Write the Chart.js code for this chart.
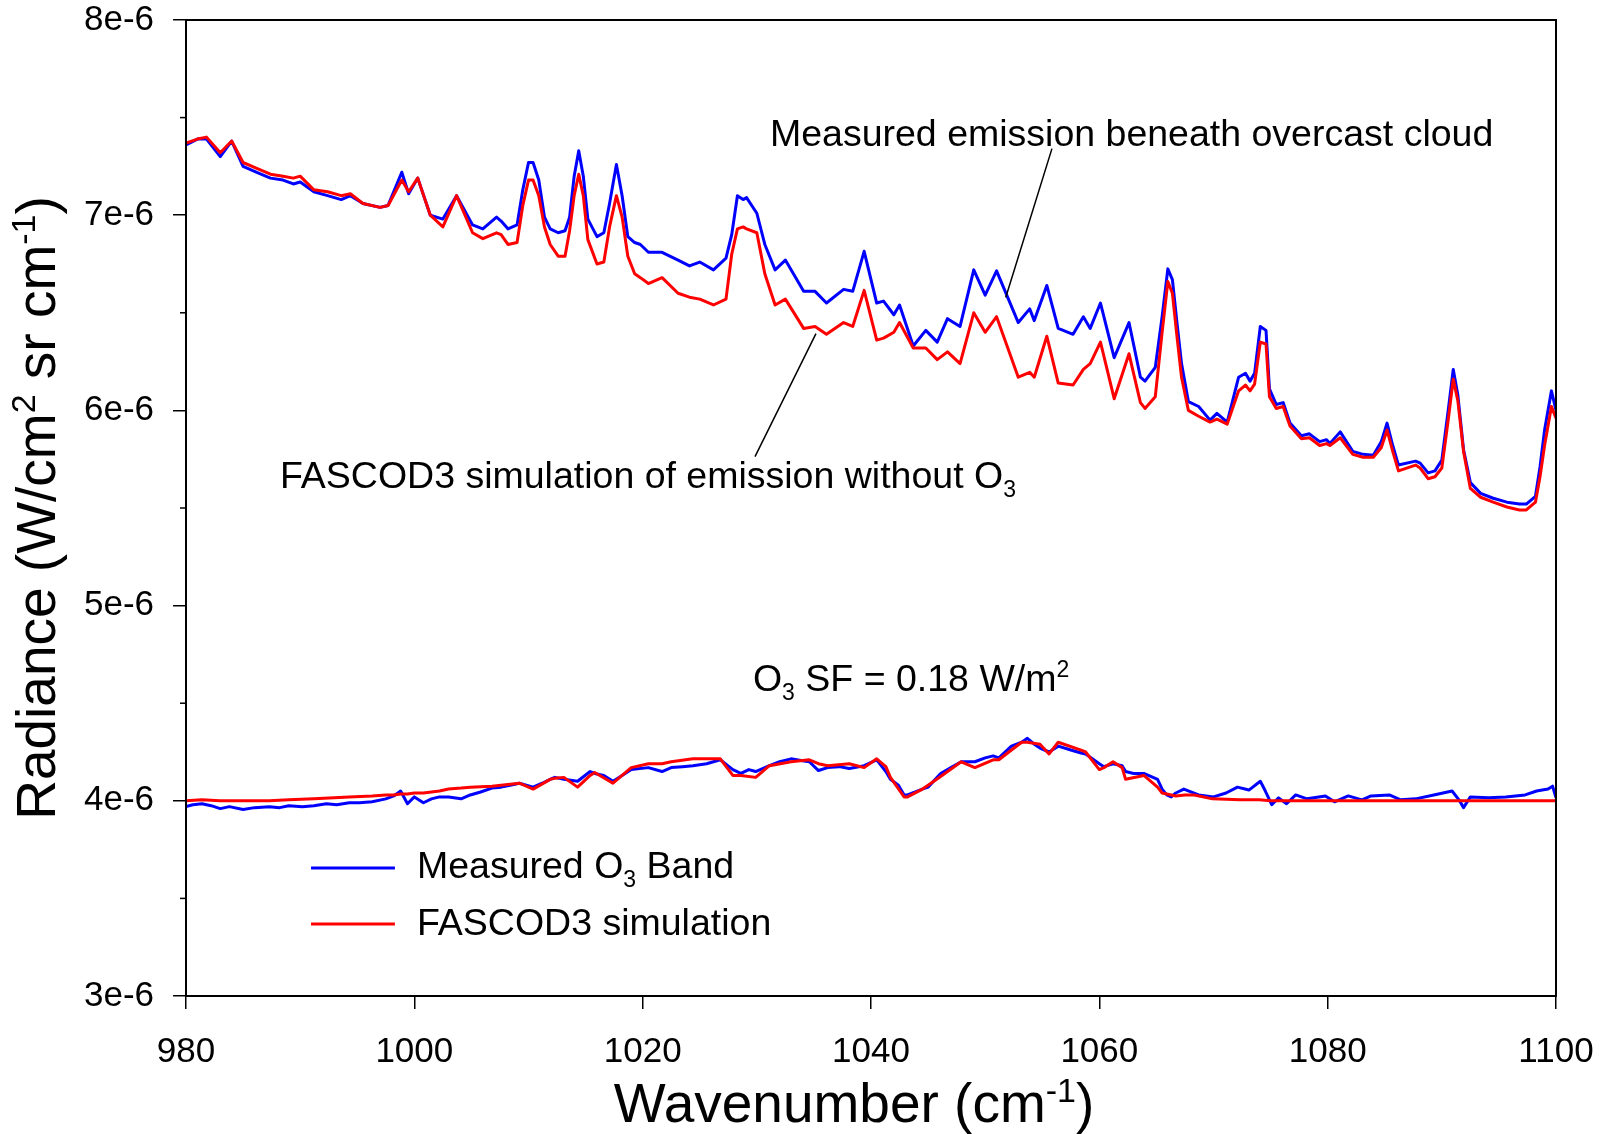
<!DOCTYPE html>
<html lang="en">
<head>
    <meta charset="UTF-8">
    <title>Radiance vs Wavenumber</title>
    <script src="https://cdn.jsdelivr.net/npm/chart.js"></script>
    <style>
        body { margin: 0; background: #fff; }
        #wrap { width: 1610px; height: 1134px; }
    </style>
</head>
<body>
    <div id="wrap"><canvas id="spec" width="1610" height="1134"></canvas></div>

    <script>
        // radiance values in units of 1e-6 W/cm2 sr cm-1
        const wnUpper = [980.0, 981.0, 981.8, 983.0, 984.0, 985.0, 986.2, 987.4, 988.5, 989.4,
            990.0, 991.2, 992.4, 993.6, 994.4, 995.5, 997.0, 997.7, 998.9, 999.5,
            1000.3, 1001.4, 1002.5, 1003.7, 1005.1, 1006.0, 1007.2, 1007.6, 1008.2, 1009.0,
            1009.5, 1010.0, 1010.4, 1010.9, 1011.4, 1011.9, 1012.6, 1013.2, 1013.6, 1014.0,
            1014.4, 1014.8, 1015.2, 1016.0, 1016.6, 1017.1, 1017.7, 1018.2, 1018.7, 1019.3,
            1019.8, 1020.5, 1021.7, 1023.1, 1024.1, 1025.0, 1026.2, 1027.3, 1027.8, 1028.3,
            1028.8, 1029.1, 1030.0, 1030.7, 1031.6, 1032.5, 1034.1, 1035.1, 1036.1, 1037.6,
            1038.4, 1039.4, 1040.5, 1041.1, 1042.0, 1042.5, 1043.7, 1044.8, 1045.8, 1046.7,
            1047.8, 1049.0, 1050.0, 1051.0, 1052.9, 1053.9, 1054.3, 1055.4, 1056.4, 1057.7,
            1058.6, 1059.2, 1060.1, 1061.3, 1062.6, 1063.6, 1064.0, 1064.9, 1065.5, 1066.0,
            1066.4, 1066.8, 1067.2, 1067.8, 1068.7, 1069.7, 1070.3, 1071.2, 1072.2, 1072.8,
            1073.2, 1073.6, 1074.1, 1074.6, 1074.9, 1075.5, 1076.1, 1076.7, 1077.7, 1078.4,
            1079.3, 1079.9, 1080.2, 1081.1, 1082.2, 1083.1, 1084.0, 1084.7, 1085.2, 1085.7,
            1086.2, 1087.7, 1088.1, 1088.8, 1089.4, 1090.0, 1090.6, 1091.0, 1091.4, 1091.9,
            1092.5, 1093.4, 1094.5, 1095.7, 1096.8, 1097.4, 1098.2, 1098.6, 1099.0, 1099.6,
            1100.0];
        const measUpper = [7.36, 7.39, 7.39, 7.30, 7.38, 7.25, 7.22, 7.19, 7.18, 7.16,
            7.17, 7.12, 7.10, 7.08, 7.10, 7.06, 7.04, 7.05, 7.22, 7.11,
            7.19, 7.00, 6.98, 7.10, 6.95, 6.93, 6.99, 6.97, 6.93, 6.95,
            7.13, 7.27, 7.27, 7.18, 6.99, 6.93, 6.91, 6.92, 6.99, 7.20,
            7.33, 7.20, 6.98, 6.89, 6.91, 7.06, 7.26, 7.10, 6.89, 6.86,
            6.85, 6.81, 6.81, 6.77, 6.74, 6.76, 6.72, 6.78, 6.90, 7.10,
            7.08, 7.09, 7.01, 6.85, 6.72, 6.77, 6.61, 6.61, 6.55, 6.62,
            6.61, 6.815, 6.55, 6.56, 6.49, 6.54, 6.33, 6.41, 6.35, 6.47,
            6.43, 6.72, 6.59, 6.715, 6.45, 6.52, 6.46, 6.64, 6.42, 6.39,
            6.48, 6.42, 6.55, 6.27, 6.45, 6.17, 6.15, 6.22, 6.48, 6.725,
            6.67, 6.45, 6.24, 6.045, 6.02, 5.95, 5.985, 5.94, 6.17, 6.19,
            6.15, 6.19, 6.43, 6.41, 6.11, 6.03, 6.04, 5.935, 5.87, 5.88,
            5.84, 5.85, 5.83, 5.89, 5.79, 5.775, 5.77, 5.84, 5.935, 5.82,
            5.72, 5.74, 5.73, 5.68, 5.69, 5.745, 6.02, 6.21, 6.08, 5.80,
            5.63, 5.575, 5.55, 5.53, 5.52, 5.52, 5.56, 5.71, 5.90, 6.10,
            6.00];
        const simUpper = [7.37, 7.39, 7.40, 7.32, 7.38, 7.27, 7.24, 7.21, 7.20, 7.19,
            7.20, 7.13, 7.12, 7.10, 7.11, 7.06, 7.04, 7.05, 7.18, 7.12,
            7.19, 7.00, 6.94, 7.10, 6.91, 6.88, 6.91, 6.90, 6.85, 6.86,
            7.05, 7.18, 7.18, 7.10, 6.94, 6.85, 6.79, 6.79, 6.92, 7.10,
            7.21, 7.10, 6.875, 6.75, 6.76, 6.94, 7.10, 6.99, 6.79, 6.70,
            6.68, 6.65, 6.68, 6.60, 6.58, 6.57, 6.54, 6.57, 6.80, 6.93,
            6.94, 6.93, 6.91, 6.70, 6.54, 6.57, 6.42, 6.43, 6.39, 6.45,
            6.43, 6.615, 6.36, 6.37, 6.40, 6.45, 6.32, 6.32, 6.26, 6.30,
            6.24, 6.50, 6.40, 6.48, 6.17, 6.195, 6.17, 6.38, 6.14, 6.13,
            6.21, 6.24, 6.35, 6.06, 6.29, 6.04, 6.01, 6.07, 6.40, 6.66,
            6.60, 6.38, 6.17, 6.00, 5.97, 5.94, 5.955, 5.93, 6.10, 6.13,
            6.10, 6.135, 6.35, 6.34, 6.07, 6.01, 6.02, 5.92, 5.855, 5.86,
            5.82, 5.83, 5.82, 5.86, 5.775, 5.76, 5.76, 5.81, 5.90, 5.79,
            5.69, 5.72, 5.705, 5.65, 5.66, 5.705, 5.97, 6.16, 6.05, 5.79,
            5.60, 5.555, 5.53, 5.505, 5.49, 5.49, 5.53, 5.66, 5.82, 6.02,
            5.96];

        const wnLowerMeas = [980.0, 980.6, 981.4, 982.2, 983.0, 983.8, 985.0, 986.0, 987.3, 988.2, 989.0, 990.2, 991.2, 992.3, 993.2, 994.3, 995.2, 996.3, 997.5, 998.2,
            998.8, 999.4, 1000.0, 1000.8, 1001.5, 1002.2, 1003.0, 1004.1, 1004.9, 1005.8, 1006.8, 1007.6, 1008.4, 1009.2, 1010.4, 1011.2, 1011.9, 1012.3, 1013.1, 1014.3,
            1015.4, 1015.8, 1016.6, 1017.4, 1018.2, 1019.0, 1020.5, 1021.7, 1022.5, 1023.5, 1024.4, 1025.6, 1026.8, 1027.9, 1028.6, 1029.3, 1029.9, 1031.1, 1032.0, 1033.0,
            1034.0, 1034.6, 1035.4, 1036.2, 1037.2, 1038.1, 1039.4, 1040.5, 1041.3, 1041.7, 1042.4, 1042.9, 1043.2, 1044.5, 1045.0, 1046.1, 1047.0, 1047.9, 1049.1, 1050.0,
            1050.7, 1051.2, 1052.3, 1053.2, 1053.7, 1054.3, 1054.8, 1055.6, 1056.4, 1057.5, 1058.4, 1058.8, 1060.0, 1060.4, 1061.2, 1062.0, 1062.3, 1063.0, 1063.9, 1065.1,
            1065.5, 1065.9, 1066.3, 1066.7, 1067.4, 1068.7, 1070.0, 1071.1, 1072.1, 1073.1, 1074.1, 1074.5, 1075.1, 1075.7, 1076.4, 1077.2, 1078.2, 1079.8, 1080.6, 1081.8,
            1083.0, 1083.8, 1085.4, 1086.4, 1087.7, 1089.3, 1090.9, 1091.5, 1091.9, 1092.5, 1094.1, 1095.6, 1097.3, 1098.3, 1099.3, 1099.7, 1100.0];
        const measLower = [3.97, 3.98, 3.985, 3.975, 3.96, 3.97, 3.955, 3.965, 3.97, 3.965, 3.975, 3.97, 3.975, 3.985, 3.98, 3.99, 3.99, 3.995, 4.01, 4.025,
            4.05, 3.985, 4.02, 3.99, 4.01, 4.02, 4.02, 4.01, 4.03, 4.045, 4.065, 4.07, 4.08, 4.09, 4.07, 4.09, 4.11, 4.12, 4.11, 4.10,
            4.15, 4.14, 4.13, 4.10, 4.13, 4.16, 4.17, 4.15, 4.17, 4.175, 4.18, 4.19, 4.21, 4.16, 4.14, 4.16, 4.15, 4.18, 4.20, 4.215,
            4.205, 4.20, 4.155, 4.17, 4.175, 4.165, 4.18, 4.21, 4.15, 4.11, 4.08, 4.03, 4.03, 4.06, 4.07, 4.14, 4.17, 4.20, 4.20, 4.22,
            4.23, 4.22, 4.28, 4.30, 4.32, 4.29, 4.27, 4.25, 4.28, 4.26, 4.245, 4.24, 4.19, 4.175, 4.19, 4.18, 4.15, 4.14, 4.14, 4.11,
            4.06, 4.03, 4.02, 4.04, 4.06, 4.03, 4.02, 4.04, 4.07, 4.055, 4.10, 4.055, 3.98, 4.015, 3.985, 4.03, 4.01, 4.025, 3.995, 4.025,
            4.005, 4.025, 4.03, 4.005, 4.01, 4.03, 4.05, 4.005, 3.965, 4.02, 4.015, 4.02, 4.03, 4.05, 4.06, 4.075, 4.015];

        const wnLowerSim = [980.0, 981.4, 983.0, 985.0, 987.3, 989.0, 991.2, 994.3, 996.3, 997.5, 998.2, 998.8, 999.4, 1000.0, 1000.8, 1002.2, 1003.0, 1004.1, 1004.9, 1006.8,
            1007.6, 1009.2, 1010.4, 1011.9, 1012.3, 1013.1, 1014.3, 1015.4, 1015.8, 1017.4, 1019.0, 1020.5, 1021.7, 1022.5, 1024.4, 1026.8, 1027.9, 1028.6, 1029.9, 1031.1,
            1033.0, 1034.6, 1035.4, 1036.2, 1038.1, 1039.4, 1040.5, 1041.3, 1041.7, 1042.9, 1043.2, 1044.5, 1045.0, 1046.1, 1047.9, 1049.1, 1050.7, 1051.2, 1052.3, 1053.2,
            1053.7, 1054.8, 1055.6, 1056.4, 1058.4, 1058.8, 1060.0, 1060.4, 1061.2, 1062.0, 1062.3, 1063.9, 1065.1, 1065.5, 1066.3, 1066.7, 1067.5, 1068.3, 1069.5, 1069.9,
            1072.3, 1074.0, 1075.0, 1077.0, 1079.8, 1081.8, 1085.4, 1087.7, 1090.9, 1091.9, 1093.0, 1095.6, 1098.3, 1099.5, 1100.0];
        const simLower = [4.00, 4.005, 4.00, 4.00, 4.00, 4.005, 4.01, 4.02, 4.025, 4.03, 4.03, 4.035, 4.035, 4.04, 4.04, 4.05, 4.06, 4.065, 4.07, 4.075,
            4.08, 4.09, 4.06, 4.11, 4.115, 4.12, 4.07, 4.13, 4.145, 4.09, 4.17, 4.19, 4.19, 4.20, 4.215, 4.215, 4.13, 4.13, 4.12, 4.18,
            4.20, 4.21, 4.19, 4.18, 4.19, 4.17, 4.215, 4.175, 4.12, 4.02, 4.02, 4.06, 4.08, 4.125, 4.20, 4.17, 4.21, 4.21, 4.26, 4.30,
            4.30, 4.29, 4.24, 4.30, 4.26, 4.25, 4.16, 4.17, 4.20, 4.17, 4.11, 4.13, 4.07, 4.04, 4.03, 4.025, 4.03, 4.03, 4.015, 4.01,
            4.005, 4.005, 4.00, 4.00, 4.00, 4.00, 4.00, 4.00, 4.00, 4.00, 4.00, 4.00, 4.00, 4.00, 4.00];

        const xTicks = { min: 980, max: 1100, step: 20 };
        const yTicks = { min: 3, max: 8, step: 1, suffix: 'e-6' };

        const BLUE = '#0000ff';
        const RED = '#ff0000';
        const FONT = '"Liberation Sans", Arial, sans-serif';

        const pts = (xs, ys) => xs.map((x, i) => ({ x: x, y: ys[i] }));

        // text with sub/superscripts, parts = [[text, 'sup'|'sub'|undefined], ...]
        function richText(ctx, parts, x, y, size, align) {
            const small = Math.round(size * 0.62);
            let total = 0;
            const widths = parts.map(p => {
                ctx.font = (p[1] ? small : size) + 'px ' + FONT;
                const w = ctx.measureText(p[0]).width;
                total += w;
                return w;
            });
            let cx = align === 'center' ? x - total / 2 : x;
            ctx.textAlign = 'left';
            ctx.textBaseline = 'alphabetic';
            parts.forEach((p, i) => {
                ctx.font = (p[1] ? small : size) + 'px ' + FONT;
                const dy = p[1] === 'sup' ? -size * 0.36 : p[1] === 'sub' ? size * 0.24 : 0;
                ctx.fillText(p[0], cx, y + dy);
                cx += widths[i];
            });
        }

        const decorations = {
            id: 'decorations',
            afterDraw(chart) {
                const { ctx, chartArea: a, scales: { x, y } } = chart;
                const px = v => x.getPixelForValue(v);
                const py = v => y.getPixelForValue(v);
                ctx.save();
                ctx.fillStyle = '#000';
                ctx.strokeStyle = '#000';

                // frame
                ctx.lineWidth = 2;
                ctx.strokeRect(a.left, a.top, a.right - a.left, a.bottom - a.top);

                // minor y ticks
                ctx.lineWidth = 1.5;
                for (let v = yTicks.min + yTicks.step / 2; v < yTicks.max; v += yTicks.step) {
                    ctx.beginPath();
                    ctx.moveTo(a.left - 6, py(v));
                    ctx.lineTo(a.left, py(v));
                    ctx.stroke();
                }

                // axis titles
                richText(ctx, [['Wavenumber (cm'], ['-1', 'sup'], [')']], 854, 1122, 55, 'center');
                ctx.save();
                ctx.translate(55, (a.top + a.bottom) / 2);
                ctx.rotate(-Math.PI / 2);
                richText(ctx, [['Radiance (W/cm'], ['2', 'sup'], [' sr cm'], ['-1', 'sup'], [')']], 0, 0, 55, 'center');
                ctx.restore();

                // annotations
                richText(ctx, [['Measured emission beneath overcast cloud']], px(1031.15), py(7.352), 37.5, 'left');
                richText(ctx, [['FASCOD3 simulation of emission without O'], ['3', 'sub']], px(988.23), py(5.604), 37.5, 'left');
                richText(ctx, [['O'], ['3', 'sub'], [' SF = 0.18 W/m'], ['2', 'sup']], px(1029.66), py(4.563), 37.5, 'left');

                ctx.lineWidth = 1.5;
                ctx.beginPath();
                ctx.moveTo(px(1055.85), py(7.341));
                ctx.lineTo(px(1051.8), py(6.578));
                ctx.moveTo(px(1029.84), py(5.763));
                ctx.lineTo(px(1035.18), py(6.393));
                ctx.stroke();

                // legend
                ctx.lineWidth = 3;
                [[BLUE, 3.656], [RED, 3.369]].forEach(([c, v]) => {
                    ctx.strokeStyle = c;
                    ctx.beginPath();
                    ctx.moveTo(px(990.95), py(v));
                    ctx.lineTo(px(998.3), py(v));
                    ctx.stroke();
                });
                richText(ctx, [['Measured O'], ['3', 'sub'], [' Band']], px(1000.23), py(3.605), 37.5, 'left');
                richText(ctx, [['FASCOD3 simulation']], px(1000.23), py(3.31), 37.5, 'left');

                ctx.restore();
            }
        };

        const lineStyle = (color, order) => ({
            borderColor: color, borderWidth: 3, pointRadius: 0, tension: 0,
            borderJoinStyle: 'round', fill: false, order: order
        });

        new Chart(document.getElementById('spec').getContext('2d'), {
            type: 'line',
            data: {
                datasets: [
                    { label: 'Measured emission beneath overcast cloud', data: pts(wnUpper, measUpper), ...lineStyle(BLUE, 2) },
                    { label: 'FASCOD3 simulation of emission without O3', data: pts(wnUpper, simUpper), ...lineStyle(RED, 1) },
                    { label: 'Measured O3 Band', data: pts(wnLowerMeas, measLower), ...lineStyle(BLUE, 2) },
                    { label: 'FASCOD3 simulation', data: pts(wnLowerSim, simLower), ...lineStyle(RED, 1) }
                ]
            },
            options: {
                responsive: false,
                devicePixelRatio: 1,
                animation: false,
                layout: { padding: { left: 0, right: 54, top: 20, bottom: 0 } },
                plugins: { legend: { display: false }, tooltip: { enabled: false } },
                scales: {
                    x: {
                        type: 'linear', min: xTicks.min, max: xTicks.max,
                        afterFit: s => { s.height = 138; s.paddingLeft = 0; s.paddingRight = 0; },
                        grid: { drawOnChartArea: false, tickLength: 13, color: '#000', lineWidth: 1.5 },
                        border: { color: '#000', width: 2 },
                        ticks: { stepSize: xTicks.step, color: '#000', padding: 22, maxRotation: 0, autoSkip: false,
                            font: { family: FONT, size: 35 },
                            callback: v => String(v) }
                    },
                    y: {
                        type: 'linear', min: yTicks.min, max: yTicks.max,
                        afterFit: s => { s.width = 186; s.paddingTop = 0; s.paddingBottom = 0; },
                        grid: { drawOnChartArea: false, tickLength: 13, color: '#000', lineWidth: 1.5 },
                        border: { color: '#000', width: 2 },
                        ticks: { stepSize: yTicks.step, color: '#000', padding: 19,
                            font: { family: FONT, size: 35 },
                            callback: v => v + yTicks.suffix }
                    }
                }
            },
            plugins: [decorations]
        });
    </script>
</body>
</html>
